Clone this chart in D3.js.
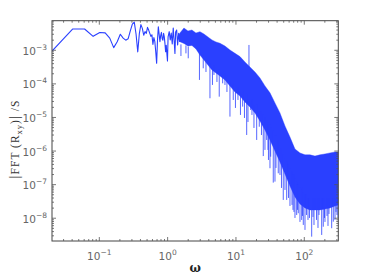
<!DOCTYPE html>
<html><head><meta charset="utf-8">
<script src="https://cdn.jsdelivr.net/npm/d3@7"></script>
<style>html,body{margin:0;padding:0;background:#fff;}svg{display:block;}</style>
</head><body>
<script>
// low-frequency part: individual FFT bins (line)
const omegaLow = [0.0203,0.0406,0.0609,0.0812,0.1015,0.1218,0.1421,0.1624,0.1827,0.203,0.2233,0.2436,0.2639,0.2842,0.3045,0.3248,0.3451,0.3654,0.3857,0.406,0.4263,0.4466,0.4669,0.4872,0.5075,0.5278,0.5481,0.5684,0.5887,0.609,0.6293,0.6496,0.6699,0.6902,0.7105,0.7308,0.7511,0.7714,0.7917,0.812,0.8323,0.8526,0.8729,0.8932,0.9135,0.9338,0.9541,0.9744,0.9947,1.015,1.055,1.092,1.129,1.168,1.208,1.249,1.279,1.31,1.355,1.401,1.449,1.499];
const valueLow = [9.5e-4,4.3e-3,4.3e-3,2.6e-3,3.4e-3,3.3e-3,2.3e-3,1.2e-3,1.8e-3,3.0e-3,2.3e-3,2.0e-3,2.2e-3,3.8e-3,6.0e-3,6.9e-3,3.0e-3,9.0e-4,3.2e-3,5.8e-3,4.5e-3,2.8e-3,3.6e-3,3.2e-3,4.8e-3,4.0e-3,3.2e-3,2.6e-3,2.9e-3,1.5e-3,2.4e-3,1.8e-3,9.0e-4,4.1e-4,2.0e-3,5.0e-3,3.0e-3,1.8e-3,2.8e-3,3.4e-3,2.2e-3,2.0e-3,3.2e-3,2.5e-3,1.6e-3,9.0e-4,1.4e-3,8.0e-4,4.8e-4,2.5e-3,3.58e-3,2.03e-3,3.27e-3,1.54e-3,4.61e-3,1.77e-3,8.1e-4,3.5e-3,4.02e-3,1.44e-3,3.2e-3,1.77e-3];

// dense high-frequency part: envelope of the noise band
const omegaBand = [1.42,1.514,1.733,1.983,2.269,2.596,2.971,3.401,3.891,4.453,5.096,5.832,6.901,8.170,9.669,11.44,13.54,16.03,18.98,22.46,26.58,31.47,37.24,44.08,52.18,61.75,73.09,86.50,102.4,121.2,143.4,169.8,200.9,237.8,281.5,314.7];
const bandHigh = [2.6e-3,3.27e-3,4.61e-3,3.75e-3,4.02e-3,3.27e-3,3.58e-3,3.05e-3,2.49e-3,2.03e-3,1.77e-3,1.62e-3,1.34e-3,1.02e-3,8.1e-4,6.5e-4,4.5e-4,3.2e-4,2.26e-4,1.5e-4,8.7e-5,5.4e-5,2.7e-5,1.36e-5,5.6e-6,2.6e-6,1.15e-6,8.8e-7,7.7e-7,7.7e-7,7.1e-7,7.7e-7,8.2e-7,8.8e-7,9.4e-7,9.4e-7];
const bandLow = [2.6e-3,1.8e-3,1.6e-3,1.35e-3,1.4e-3,1.1e-3,7.25e-4,5.14e-4,3.65e-4,2.59e-4,2.11e-4,1.72e-4,1.31e-4,8.66e-5,5.74e-5,4.36e-5,2.89e-5,2.05e-5,1.36e-5,7.87e-6,4.25e-6,2.14e-6,1.01e-6,4.74e-7,2.08e-7,9.14e-8,4.31e-8,2.67e-8,2.03e-8,1.77e-8,1.77e-8,1.77e-8,1.89e-8,2.03e-8,2.32e-8,2.49e-8];

// isolated spikes reaching out of the band
const spikeOmega = [1.566,1.853,2.003,2.921,3.32,3.64,4.163,4.53,4.764,5.27,5.694,6.39,6.901,7.38,8.17,9.13,9.83,10.70,11.64,12.53,13.32,14.35,14.99,15.5,16.41,17.15,18.34,20.10,21.94,23.63,25.10,26.58,28.15,29.42,29.91,31.47,32.2,35.17,37.24,38.53,41.6,44.08,46.37,49.27,52.18,55.25,58.7,61.75,66.07,68.33,70.63,73.09,77.41,79.5,81.7,86.5,91.6,94.1,96.7,102.4,107.7,113.3,119.2,128.3,134.1,138.7,150.9,158.7,164.2,179.8,189.7,197.6,200.9,215,222.3,230,251.8,265.9,281.5,291.1,301.1,311.5];
const spikeTop = [1.5e-3,1.4e-3,1.3e-3,9e-4,7e-4,5e-4,4e-4,3e-4,3.5e-4,2.5e-4,2.7e-4,2.3e-4,2e-4,1.8e-4,1.3e-4,1e-4,7e-5,8e-5,6e-5,6e-5,4e-5,5e-5,3.5e-5,1.44e-3,3e-5,3.5e-5,2.5e-5,2.5e-5,1.5e-5,1.5e-5,1.2e-5,1e-5,8e-6,7e-6,6e-6,6e-6,5e-6,4e-6,3e-6,3e-6,2e-6,1.5e-6,1.2e-6,8e-7,6e-7,5e-7,4e-7,3e-7,2.5e-7,2e-7,2e-7,1.5e-7,1.2e-7,1e-7,1e-7,8e-8,7e-8,8e-8,6e-8,5e-8,5e-8,4e-8,4e-8,4e-8,4e-8,4e-8,4e-8,4e-8,4e-8,4e-8,4e-8,4e-8,4e-8,4e-8,4e-8,4e-8,4e-8,4e-8,4e-8,4e-8,4e-8,4e-8];
const spikeBottom = [6.76e-4,8.1e-4,5.78e-4,1.31e-4,2.91e-4,2.26e-4,3.73e-5,9.3e-5,1.84e-4,1.14e-4,4.16e-5,1.04e-4,9.27e-5,5.74e-5,1.06e-5,3.32e-5,1.92e-5,3.32e-5,1.19e-5,2.1e-5,9.66e-6,3.01e-6,7.34e-6,3e-4,1.67e-5,1.19e-5,4.87e-6,2.14e-6,5.3e-6,3.0e-6,7.1e-7,1.08e-6,2.14e-6,1.08e-6,5.43e-7,3.08e-7,6.8e-7,1.15e-7,1.23e-7,3.14e-7,2.18e-7,1.94e-7,7.98e-8,3.51e-8,6.95e-8,3.51e-8,4.02e-8,2.32e-8,2.49e-8,1.77e-8,1.54e-8,1.02e-8,1.25e-8,1.77e-8,1.41e-8,7.76e-9,8.9e-9,1.17e-8,6.32e-9,4.49e-9,1.25e-8,8.9e-9,1.02e-8,2.83e-9,1.09e-8,6.3e-9,8.9e-9,5.14e-9,1.25e-8,3.18e-9,5.6e-9,1.02e-8,7.76e-9,1.17e-8,5.9e-9,1.34e-8,5.04e-9,7.9e-9,8.9e-9,1.54e-8,1.25e-8,1.02e-8];

const xMajor = [0.1, 1, 10, 100];
const xMajorExp = ["\u22121", "0", "1", "2"];
const yMajor = [1e-8, 1e-7, 1e-6, 1e-5, 1e-4, 1e-3];
const yMajorExp = ["\u22128", "\u22127", "\u22126", "\u22125", "\u22124", "\u22123"];

const W = 374, H = 276;
const m = {left: 52, right: 35.7, top: 20.7, bottom: 35};
const lineColor = "#2a40ff";

const svg = d3.select("body").append("svg").attr("width", W).attr("height", H);
const x = d3.scaleLog().domain([0.0203, 314.7]).range([m.left, W - m.right]);
const y = d3.scaleLog().domain([2.1e-9, 7.6e-3]).range([H - m.bottom, m.top]);

svg.append("clipPath").attr("id", "clip").append("rect")
  .attr("x", m.left).attr("y", m.top)
  .attr("width", W - m.left - m.right).attr("height", H - m.top - m.bottom);
const g = svg.append("g").attr("clip-path", "url(#clip)");

const bandData = omegaBand.map((w, i) => ({w, hi: bandHigh[i], lo: bandLow[i]}));
g.append("path").datum(bandData)
  .attr("d", d3.area().x(d => x(d.w)).y0(d => y(d.lo)).y1(d => y(d.hi)))
  .attr("fill", lineColor).attr("stroke", lineColor).attr("stroke-width", 0.8).attr("stroke-opacity", 0.5);

g.selectAll("line.spike").data(spikeOmega.map((w, i) => ({w, t: spikeTop[i], b: spikeBottom[i]})))
  .enter().append("line").attr("class", "spike")
  .attr("x1", d => x(d.w)).attr("x2", d => x(d.w))
  .attr("y1", d => y(d.t)).attr("y2", d => y(d.b))
  .attr("stroke", lineColor).attr("stroke-width", 1).attr("stroke-opacity", 0.8);

g.append("path").datum(omegaLow.map((w, i) => [w, valueLow[i]]))
  .attr("d", d3.line().x(d => x(d[0])).y(d => y(d[1])))
  .attr("fill", "none").attr("stroke", lineColor).attr("stroke-width", 1.1).attr("stroke-linejoin", "round");

// frame
const x0 = m.left, x1 = W - m.right, y0 = m.top, y1 = H - m.bottom;
svg.append("rect").attr("x", x0).attr("y", y0).attr("width", x1 - x0).attr("height", y1 - y0)
  .attr("fill", "none").attr("stroke", "#444").attr("stroke-width", 1);

// ticks (inside, mirrored)
const tickColor = "#555";
function minorTicks(domain) {
  const out = [];
  for (let e = Math.floor(Math.log10(domain[0])); e <= Math.ceil(Math.log10(domain[1])); e++) {
    for (let k = 2; k <= 9; k++) {
      const v = k * Math.pow(10, e);
      if (v >= domain[0] && v <= domain[1]) out.push(v);
    }
  }
  return out;
}
const xMin = minorTicks(x.domain()), yMin = minorTicks(y.domain());
const tk = svg.append("g").attr("stroke", tickColor).attr("stroke-width", 0.8);
xMajor.forEach(v => {
  tk.append("line").attr("x1", x(v)).attr("x2", x(v)).attr("y1", y1).attr("y2", y1 - 4);
  tk.append("line").attr("x1", x(v)).attr("x2", x(v)).attr("y1", y0).attr("y2", y0 + 4);
});
xMin.forEach(v => {
  tk.append("line").attr("x1", x(v)).attr("x2", x(v)).attr("y1", y1).attr("y2", y1 - 2);
  tk.append("line").attr("x1", x(v)).attr("x2", x(v)).attr("y1", y0).attr("y2", y0 + 2);
});
yMajor.forEach(v => {
  tk.append("line").attr("x1", x0).attr("x2", x0 + 4).attr("y1", y(v)).attr("y2", y(v));
  tk.append("line").attr("x1", x1).attr("x2", x1 - 4).attr("y1", y(v)).attr("y2", y(v));
});
yMin.forEach(v => {
  tk.append("line").attr("x1", x0).attr("x2", x0 + 2).attr("y1", y(v)).attr("y2", y(v));
  tk.append("line").attr("x1", x1).attr("x2", x1 - 2).attr("y1", y(v)).attr("y2", y(v));
});

// tick labels
const labFont = "'DejaVu Sans', sans-serif";
const labColor = "#666";
xMajor.forEach((v, i) => {
  const t = svg.append("text").attr("x", x(v)).attr("y", y1 + 18.5)
    .attr("text-anchor", "middle").attr("font-family", labFont).attr("font-size", 10.5).attr("fill", labColor);
  t.append("tspan").text("10");
  t.append("tspan").attr("dy", -5).attr("font-size", 7.5).text(xMajorExp[i]);
});
yMajor.forEach((v, i) => {
  const t = svg.append("text").attr("x", x0 - 5).attr("y", y(v) + 4.5)
    .attr("text-anchor", "end").attr("font-family", labFont).attr("font-size", 10.5).attr("fill", labColor);
  t.append("tspan").text("10");
  t.append("tspan").attr("dy", -5).attr("font-size", 7.5).text(yMajorExp[i]);
});

// axis titles
svg.append("text").attr("x", (x0 + x1) / 2).attr("y", 272)
  .attr("text-anchor", "middle").attr("font-family", "'DejaVu Serif', serif").attr("font-weight", "bold")
  .attr("font-size", 12).attr("fill", "#222").text("\u03c9");

const yt = svg.append("text").attr("transform", "translate(19,139) rotate(-90)")
  .attr("text-anchor", "middle").attr("font-family", "'Liberation Serif', serif")
  .attr("font-size", 11.5).attr("letter-spacing", 1).attr("fill", "#333");
yt.append("tspan").attr("font-size", 15).text("|");
yt.append("tspan").text("FFT (R");
yt.append("tspan").attr("dy", 3).attr("font-size", 8.5).text("xy");
yt.append("tspan").attr("dy", -3).text(")");
yt.append("tspan").attr("font-size", 15).text("|");
yt.append("tspan").text(" /S");
</script>
</body></html>
